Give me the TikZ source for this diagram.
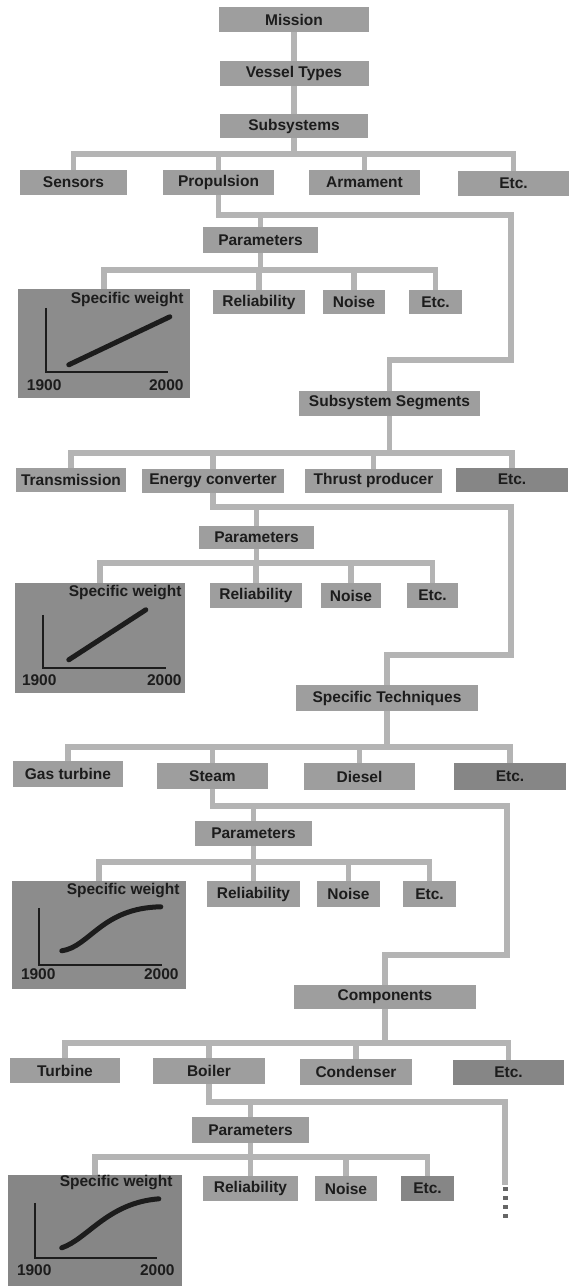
\documentclass[tikz,border=0pt]{standalone}
\usepackage{fontspec}
\setmainfont{Liberation Sans}
\usetikzlibrary{backgrounds}
\definecolor{boxgray}{RGB}{158,158,158}
\definecolor{etcgray}{RGB}{134,134,134}
\definecolor{panelgray}{RGB}{140,140,140}
\definecolor{linkgray}{RGB}{180,180,180}
\definecolor{inkgray}{RGB}{28,28,28}

\begin{document}
\begin{tikzpicture}[x=1pt, y=-1pt,
    box/.style={rectangle, fill=boxgray, minimum height=25pt, inner sep=0pt, text=inkgray, font=\fontsize{15.5}{17}\selectfont\bfseries},
    etcbox/.style={box, fill=etcgray},
    panel/.style={rectangle, fill=panelgray, inner sep=0pt},
    paneltext/.style={inner sep=0pt, text=inkgray, font=\fontsize{15.5}{17}\selectfont\bfseries},
    link/.style={draw=linkgray, line width=5.5pt, line cap=rect},
    axis/.style={draw=inkgray, line width=2.2pt},
    trend/.style={draw=inkgray, line width=5pt, line cap=round},
    tailing/.style={draw=black!60, line width=5pt, dash pattern=on 4pt off 5pt}
]%
% === Mission / Vessel Types / Subsystems ===
\node[box, minimum width=150pt] (mission) at (294,19.5) {Mission};
\node[box, minimum width=149pt] (vessel) at (294,73.5) {Vessel Types};
\node[box, minimum width=148pt, minimum height=24pt] (subsys) at (294,126.5) {Subsystems};
%
\node[box, minimum width=107pt] (sens) at (73.5,182) {Sensors};
\node[box, minimum width=111pt] (prop) at (218.5,182) {Propulsion};
\node[box, minimum width=111pt] (arm) at (364.5,182.5) {Armament};
\node[box, minimum width=111pt] (etc1) at (513.5,183) {Etc.};
%
\node[box, minimum width=115pt, minimum height=26pt] (par1) at (260.5,240) {Parameters};
\node[panel, minimum width=172pt, minimum height=109pt] (sw1) at (104,343.5) {};
\node[box, minimum width=92pt, minimum height=24pt] (rel1) at (259,302) {Reliability};
\node[box, minimum width=62pt, minimum height=24pt] (noise1) at (354,302) {Noise};
\node[box, minimum width=53pt, minimum height=24pt] (etc1b) at (435.5,302) {Etc.};
\begin{scope}[shift={(sw1.north west)}]
    \draw[axis] (28,19) -- (28,83) -- (150,83);
    \draw[trend] (51,76) -- (152,28);
    \node[paneltext, anchor=east] (sw1t) at (166,11) {Specific weight};
    \node[paneltext, anchor=west] (sw1a) at (9,96) {1900};
    \node[paneltext, anchor=east] (sw1b) at (166,96) {2000};
\end{scope}
%
% === Subsystem Segments ===
\node[box, minimum width=181pt] (segs) at (389.5,403) {Subsystem Segments};
\node[box, minimum width=110pt, minimum height=24pt] (trans) at (71,479.5) {Transmission};
\node[box, minimum width=142pt, minimum height=24pt] (conv) at (213,480.5) {Energy converter};
\node[box, minimum width=137pt, minimum height=24pt] (thrust) at (373.5,480.5) {Thrust producer};
\node[etcbox, minimum width=112pt, minimum height=24pt] (etc2) at (512,479.5) {Etc.};
%
\node[box, minimum width=115pt, minimum height=23pt] (par2) at (256.5,537) {Parameters};
\node[panel, minimum width=170pt, minimum height=110pt] (sw2) at (100,638) {};
\node[box, minimum width=92pt] (rel2) at (256,595.5) {Reliability};
\node[box, minimum width=60pt] (noise2) at (351,595.5) {Noise};
\node[box, minimum width=51pt] (etc2b) at (432.5,595.5) {Etc.};
\begin{scope}[shift={(sw2.north west)}]
    \draw[axis] (28,32) -- (28,85) -- (151,85);
    \draw[trend] (54,77) -- (131,27);
    \node[paneltext, anchor=east] (sw2t) at (167,10) {Specific weight};
    \node[paneltext, anchor=west] (sw2a) at (7,97) {1900};
    \node[paneltext, anchor=east] (sw2b) at (167,97) {2000};
\end{scope}
%
% === Specific Techniques ===
\node[box, minimum width=182pt, minimum height=26pt] (tech) at (387,698) {Specific Techniques};
\node[box, minimum width=110pt, minimum height=26pt] (gas) at (68,774) {Gas turbine};
\node[box, minimum width=111pt, minimum height=26pt] (steam) at (212.5,776) {Steam};
\node[box, minimum width=111pt, minimum height=27pt] (diesel) at (359.5,776.5) {Diesel};
\node[etcbox, minimum width=112pt, minimum height=27pt] (etc3) at (510,776.5) {Etc.};
%
\node[box, minimum width=117pt] (par3) at (253.5,833.5) {Parameters};
\node[panel, minimum width=174pt, minimum height=108pt] (sw3) at (99,935) {};
\node[box, minimum width=93pt, minimum height=26pt] (rel3) at (253.5,894) {Reliability};
\node[box, minimum width=63pt, minimum height=26pt] (noise3) at (348.5,894) {Noise};
\node[box, minimum width=53pt, minimum height=26pt] (etc3b) at (429.5,894) {Etc.};
\begin{scope}[shift={(sw3.north west)}]
    \draw[axis] (27,27) -- (27,84) -- (150,84);
    \draw[trend] (50,70) .. controls (78,66) and (90,27) .. (149,26);
    \node[paneltext, anchor=east] (sw3t) at (168,10) {Specific weight};
    \node[paneltext, anchor=west] (sw3a) at (9,93) {1900};
    \node[paneltext, anchor=east] (sw3b) at (167,93) {2000};
\end{scope}
%
% === Components ===
\node[box, minimum width=182pt, minimum height=24pt] (comp) at (385,996.5) {Components};
\node[box, minimum width=110pt] (turb) at (65,1070.5) {Turbine};
\node[box, minimum width=112pt, minimum height=26pt] (boiler) at (209,1071) {Boiler};
\node[box, minimum width=112pt, minimum height=26pt] (cond) at (356,1072) {Condenser};
\node[etcbox, minimum width=111pt] (etc4) at (508.5,1072.5) {Etc.};
%
\node[box, minimum width=117pt, minimum height=26pt] (par4) at (250.5,1130) {Parameters};
\node[panel, fill=etcgray, minimum width=174pt, minimum height=111pt] (sw4) at (95,1230.5) {};
\node[box, minimum width=95pt] (rel4) at (250.5,1188.5) {Reliability};
\node[box, minimum width=62pt] (noise4) at (346,1188.5) {Noise};
\node[etcbox, minimum width=53pt] (etc4b) at (427.5,1188.5) {Etc.};
\begin{scope}[shift={(sw4.north west)}]
    \draw[axis] (27,28) -- (27,83) -- (149,83);
    \draw[trend] (54,73) .. controls (80,64) and (100,28) .. (151,24);
    \node[paneltext, anchor=east] (sw4t) at (165,8) {Specific weight};
    \node[paneltext, anchor=west] (sw4a) at (9,95) {1900};
    \node[paneltext, anchor=east] (sw4b) at (167,95) {2000};
\end{scope}
%
% Verbindungen
\coordinate (bar1) at (0,154);   \coordinate (bend1) at (511,215);  \coordinate (turn1) at (511,360);  \coordinate (pbar1) at (0,270);
\coordinate (bar2) at (0,453);   \coordinate (bend2) at (511,507);  \coordinate (turn2) at (511,655);  \coordinate (pbar2) at (0,563);
\coordinate (bar3) at (0,747);   \coordinate (bend3) at (507,806);  \coordinate (turn3) at (507,955);  \coordinate (pbar3) at (0,862);
\coordinate (bar4) at (0,1043);  \coordinate (bend4) at (505,1102); \coordinate (cut4) at (505,1182);  \coordinate (pbar4) at (0,1157);
\coordinate (tail4) at (505,1187); \coordinate (end4) at (505,1218);
\begin{scope}[on background layer]
    \fill[white] (0,0) rectangle (572,1287);
    \draw[link] (mission) -- (vessel);
    \draw[link] (vessel) -- (subsys);
    \draw[link] (subsys) -- (subsys.south |- bar1);
    \draw[link] (sens.north |- bar1) -- (etc1.north |- bar1);
    \draw[link] (sens) -- (sens.north |- bar1);
    \draw[link] (prop) -- (prop.north |- bar1);
    \draw[link] (arm) -- (arm.north |- bar1);
    \draw[link] (etc1) -- (etc1.north |- bar1);
    \draw[link] (prop) |- (bend1) -- (turn1) -| (segs);
    \draw[link] (par1) -- (par1.north |- bend1);
    \draw[link] (par1) -- (par1.south |- pbar1);
    \draw[link] (sw1.north |- pbar1) -- (etc1b.north |- pbar1);
    \draw[link] (sw1) -- (sw1.north |- pbar1);
    \draw[link] (rel1) -- (rel1.north |- pbar1);
    \draw[link] (noise1) -- (noise1.north |- pbar1);
    \draw[link] (etc1b) -- (etc1b.north |- pbar1);
    %
    \draw[link] (segs) -- (segs.south |- bar2);
    \draw[link] (trans.north |- bar2) -- (etc2.north |- bar2);
    \draw[link] (trans) -- (trans.north |- bar2);
    \draw[link] (conv) -- (conv.north |- bar2);
    \draw[link] (thrust) -- (thrust.north |- bar2);
    \draw[link] (etc2) -- (etc2.north |- bar2);
    \draw[link] (conv) |- (bend2) -- (turn2) -| (tech);
    \draw[link] (par2) -- (par2.north |- bend2);
    \draw[link] (par2) -- (par2.south |- pbar2);
    \draw[link] (sw2.north |- pbar2) -- (etc2b.north |- pbar2);
    \draw[link] (sw2) -- (sw2.north |- pbar2);
    \draw[link] (rel2) -- (rel2.north |- pbar2);
    \draw[link] (noise2) -- (noise2.north |- pbar2);
    \draw[link] (etc2b) -- (etc2b.north |- pbar2);
    %
    \draw[link] (tech) -- (tech.south |- bar3);
    \draw[link] (gas.north |- bar3) -- (etc3.north |- bar3);
    \draw[link] (gas) -- (gas.north |- bar3);
    \draw[link] (steam) -- (steam.north |- bar3);
    \draw[link] (diesel) -- (diesel.north |- bar3);
    \draw[link] (etc3) -- (etc3.north |- bar3);
    \draw[link] (steam) |- (bend3) -- (turn3) -| (comp);
    \draw[link] (par3) -- (par3.north |- bend3);
    \draw[link] (par3) -- (par3.south |- pbar3);
    \draw[link] (sw3.north |- pbar3) -- (etc3b.north |- pbar3);
    \draw[link] (sw3) -- (sw3.north |- pbar3);
    \draw[link] (rel3) -- (rel3.north |- pbar3);
    \draw[link] (noise3) -- (noise3.north |- pbar3);
    \draw[link] (etc3b) -- (etc3b.north |- pbar3);
    %
    \draw[link] (comp) -- (comp.south |- bar4);
    \draw[link] (turb.north |- bar4) -- (etc4.north |- bar4);
    \draw[link] (turb) -- (turb.north |- bar4);
    \draw[link] (boiler) -- (boiler.north |- bar4);
    \draw[link] (cond) -- (cond.north |- bar4);
    \draw[link] (etc4) -- (etc4.north |- bar4);
    \draw[link] (boiler) |- (bend4) -- (cut4);
    \draw[tailing] (tail4) -- (end4);
    \draw[link] (par4) -- (par4.north |- bend4);
    \draw[link] (par4) -- (par4.south |- pbar4);
    \draw[link] (sw4.north |- pbar4) -- (etc4b.north |- pbar4);
    \draw[link] (sw4) -- (sw4.north |- pbar4);
    \draw[link] (rel4) -- (rel4.north |- pbar4);
    \draw[link] (noise4) -- (noise4.north |- pbar4);
    \draw[link] (etc4b) -- (etc4b.north |- pbar4);
\end{scope}
\end{tikzpicture}
\end{document}
